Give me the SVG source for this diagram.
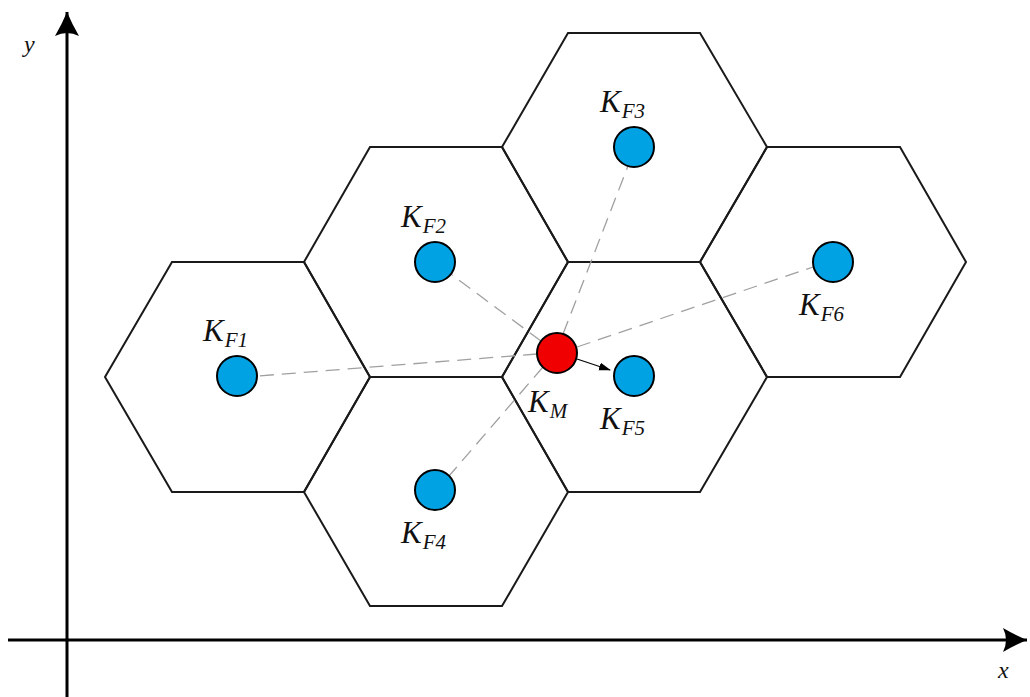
<svg xmlns="http://www.w3.org/2000/svg" width="1030" height="697" viewBox="0 0 1030 697">
<style>
.hex{fill:none;stroke:#1a1a1a;stroke-width:2}
.dash{stroke:#a0a0a0;stroke-width:1.3;stroke-dasharray:14 8;fill:none}
.blue{fill:#00A2E4;stroke:#000;stroke-width:2}
.red{fill:#F00000;stroke:#000;stroke-width:2}
.axis{stroke:#000;stroke-width:3;fill:none}
.lbl{font-family:"Liberation Serif",serif;font-style:italic;font-size:31px;fill:#111}
.sub{font-size:21px}
</style>
<defs>
<marker id="ax" markerWidth="26" markerHeight="26" refX="24" refY="13" orient="auto" markerUnits="userSpaceOnUse" viewBox="0 0 26 26">
<path d="M0,1 Q12,8 24,13 Q12,18 0,25 Q6,13 0,1 Z" fill="#000"/>
</marker>
<marker id="ar" markerWidth="12" markerHeight="10" refX="11" refY="4" orient="auto" markerUnits="userSpaceOnUse" viewBox="0 0 12 8">
<path d="M0,0 L12,4 L0,8 Z" fill="#000"/>
</marker>
</defs>
<rect width="1030" height="697" fill="#fff"/>
<g id="axes">
<line class="axis" x1="67" y1="697" x2="67" y2="12" marker-end="url(#ax)"/>
<line class="axis" x1="8" y1="640" x2="1027" y2="640" marker-end="url(#ax)"/>
<text class="lbl" x="24" y="52" style="font-size:24px">y</text>
<text class="lbl" x="998" y="678" style="font-size:24px">x</text>
</g>
<g id="hexes">
<polygon id="hex1" class="hex" points="105,377 172,262 304,262 370,377 304,492 172,492"/>
<polygon id="hex2" class="hex" points="304,262 370,147 502,147 568,262 502,377 370,377"/>
<polygon id="hex3" class="hex" points="502,147 568,33 700,33 767,147 700,262 568,262"/>
<polygon id="hex6" class="hex" points="700,262 767,147 900,147 966,262 900,377 767,377"/>
<polygon id="hex5" class="hex" points="502,377 568,262 700,262 767,377 700,492 568,492"/>
<polygon id="hex4" class="hex" points="304,492 370,377 502,377 568,492 502,606 370,606"/>
</g>
<g id="connectors">
<line class="dash" x1="537" y1="354" x2="258" y2="376"/>
<line class="dash" x1="541" y1="341" x2="452" y2="275"/>
<line class="dash" x1="563" y1="334" x2="628" y2="166"/>
<line class="dash" x1="543" y1="367" x2="449" y2="476"/>
<line class="dash" x1="577" y1="347" x2="813" y2="267"/>
<line x1="577" y1="359" x2="610" y2="370" stroke="#000" stroke-width="1.3" marker-end="url(#ar)"/>
</g>
<g id="nodeF1"><circle class="blue" cx="237" cy="376" r="20"/><text class="lbl" x="203" y="341">K<tspan class="sub" dx="1" dy="6">F1</tspan></text></g>
<g id="nodeF2"><circle class="blue" cx="435" cy="262" r="20"/><text class="lbl" x="401" y="227">K<tspan class="sub" dx="1" dy="6">F2</tspan></text></g>
<g id="nodeF3"><circle class="blue" cx="634" cy="147" r="20"/><text class="lbl" x="600" y="112">K<tspan class="sub" dx="1" dy="6">F3</tspan></text></g>
<g id="nodeF4"><circle class="blue" cx="435" cy="490" r="20"/><text class="lbl" x="401" y="543">K<tspan class="sub" dx="1" dy="6">F4</tspan></text></g>
<g id="nodeF5"><circle class="blue" cx="634" cy="376" r="20"/><text class="lbl" x="600" y="429">K<tspan class="sub" dx="1" dy="6">F5</tspan></text></g>
<g id="nodeF6"><circle class="blue" cx="833" cy="262" r="20"/><text class="lbl" x="799" y="315">K<tspan class="sub" dx="1" dy="6">F6</tspan></text></g>
<g id="nodeM"><circle class="red" cx="557" cy="353" r="20"/><text class="lbl" x="528" y="412">K<tspan class="sub" dx="1" dy="6">M</tspan></text></g>
</svg>
